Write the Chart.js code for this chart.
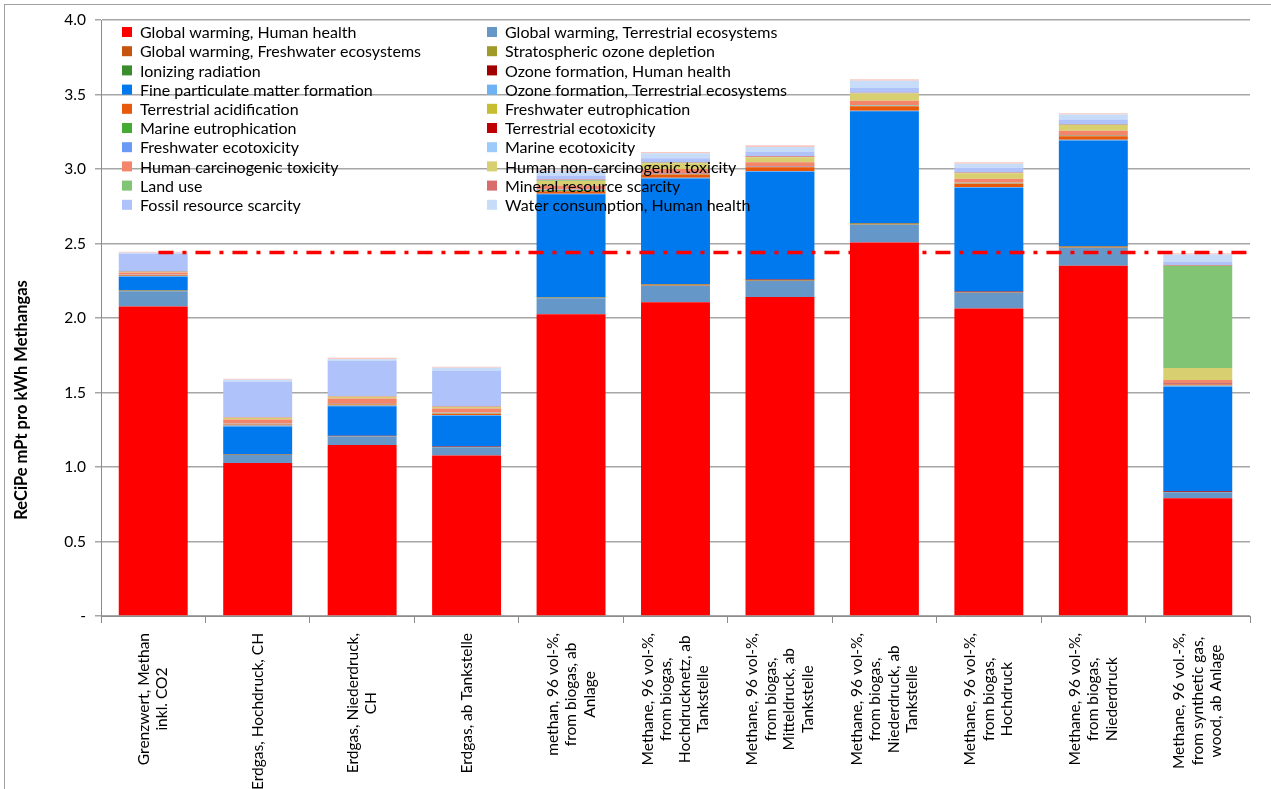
<!DOCTYPE html>
<html>
<head>
<meta charset="utf-8">
<script src="https://cdn.jsdelivr.net/npm/chart.js@4.4.1/dist/chart.umd.min.js"></script>
<style>
  body { margin: 0; background: #fff; }
  canvas { display: block; }
</style>
</head>
<body>
<canvas id="chart" width="1271" height="789"></canvas>
<script>
// categories (multi-line labels as in the original)
const categories = [
  ['Grenzwert, Methan', 'inkl. CO2'],
  ['Erdgas, Hochdruck, CH'],
  ['Erdgas, Niederdruck,', 'CH'],
  ['Erdgas, ab Tankstelle'],
  ['methan, 96 vol-%,', 'from biogas, ab', 'Anlage'],
  ['Methane, 96 vol-%,', 'from biogas,', 'Hochdrucknetz, ab', 'Tankstelle'],
  ['Methane, 96 vol-%,', 'from biogas,', 'Mitteldruck, ab', 'Tankstelle'],
  ['Methane, 96 vol-%,', 'from biogas,', 'Niederdruck, ab', 'Tankstelle'],
  ['Methane, 96 vol-%,', 'from biogas,', 'Hochdruck'],
  ['Methane, 96 vol-%,', 'from biogas,', 'Niederdruck'],
  ['Methane, 96 vol.-%,', 'from synthetic gas,', 'wood, ab Anlage']
];

const yTicks = [0, 0.5, 1.0, 1.5, 2.0, 2.5, 3.0, 3.5, 4.0];
const yTitle = 'ReCiPe mPt pro kWh Methangas';

// stacked series, bottom to top
const gwHumanHealth     = [2.078, 1.027, 1.148, 1.078, 2.025, 2.105, 2.141, 2.506, 2.063, 2.351, 0.790];
const gwTerrestrial     = [0.102, 0.054, 0.056, 0.054, 0.107, 0.112, 0.107, 0.120, 0.107, 0.121, 0.040];
const gwFreshwater      = [0.002, 0.001, 0.001, 0.001, 0.002, 0.002, 0.002, 0.002, 0.002, 0.002, 0.001];
const ozoneDepletion    = [0.001, 0.001, 0.001, 0.001, 0.002, 0.005, 0.002, 0.005, 0.002, 0.005, 0.001];
const ionizing          = [0.001, 0.001, 0.001, 0.001, 0.001, 0.001, 0.001, 0.001, 0.001, 0.001, 0.001];
const ozoneHuman        = [0.003, 0.002, 0.002, 0.002, 0.003, 0.003, 0.006, 0.003, 0.003, 0.003, 0.005];
const finePM            = [0.090, 0.186, 0.198, 0.207, 0.690, 0.709, 0.723, 0.750, 0.697, 0.709, 0.701];
const ozoneTerrestrial  = [0.005, 0.006, 0.005, 0.005, 0.004, 0.004, 0.004, 0.004, 0.004, 0.004, 0.008];
const terrAcidification = [0.003, 0.005, 0.008, 0.008, 0.016, 0.022, 0.025, 0.030, 0.022, 0.024, 0.006];
const fwEutrophication  = [0.001, 0.002, 0.002, 0.002, 0.002, 0.002, 0.002, 0.002, 0.002, 0.002, 0.002];
const marineEutroph     = [0.001, 0.001, 0.001, 0.001, 0.006, 0.002, 0.001, 0.001, 0.001, 0.001, 0.001];
const terrEcotox        = [0.001, 0.001, 0.001, 0.001, 0.001, 0.001, 0.001, 0.001, 0.001, 0.001, 0.004];
const fwEcotox          = [0.001, 0.001, 0.001, 0.001, 0.001, 0.001, 0.001, 0.001, 0.001, 0.001, 0.001];
const marineEcotox      = [0.002, 0.002, 0.002, 0.002, 0.002, 0.002, 0.002, 0.002, 0.002, 0.002, 0.002];
const humanCarc         = [0.015, 0.028, 0.032, 0.028, 0.028, 0.029, 0.027, 0.030, 0.027, 0.030, 0.021];
const humanNonCarc      = [0.003, 0.012, 0.012, 0.010, 0.030, 0.038, 0.034, 0.048, 0.036, 0.038, 0.080];
const landUse           = [0.001, 0.001, 0.001, 0.001, 0.005, 0.004, 0.002, 0.002, 0.002, 0.002, 0.687];
const mineral           = [0.004, 0.003, 0.003, 0.003, 0.004, 0.004, 0.004, 0.004, 0.004, 0.004, 0.004];
const fossil            = [0.115, 0.238, 0.236, 0.238, 0.028, 0.026, 0.029, 0.032, 0.032, 0.032, 0.021];
const waterHuman        = [0.009, 0.013, 0.012, 0.022, 0.030, 0.033, 0.034, 0.049, 0.027, 0.032, 0.051];
const waterTerrestrial  = [0.007, 0.007, 0.011, 0.007, 0.005, 0.009, 0.011, 0.009, 0.009, 0.009, 0.007];

// limit line (Grenzwert)
const limitValue = 2.44;
const limitFrom = 0.55;
const limitTo = 11;

const series = [
  ['Global warming, Human health', gwHumanHealth, '#ff0000'],
  ['Global warming, Terrestrial ecosystems', gwTerrestrial, '#6598c9'],
  ['Global warming, Freshwater ecosystems', gwFreshwater, '#c4540f'],
  ['Stratospheric ozone depletion', ozoneDepletion, '#a09a28'],
  ['Ionizing radiation', ionizing, '#3b8c2c'],
  ['Ozone formation, Human health', ozoneHuman, '#a00000'],
  ['Fine particulate matter formation', finePM, '#0078ee'],
  ['Ozone formation, Terrestrial ecosystems', ozoneTerrestrial, '#6db2f2'],
  ['Terrestrial acidification', terrAcidification, '#e8590c'],
  ['Freshwater eutrophication', fwEutrophication, '#c8bc30'],
  ['Marine eutrophication', marineEutroph, '#44aa33'],
  ['Terrestrial ecotoxicity', terrEcotox, '#c00000'],
  ['Freshwater ecotoxicity', fwEcotox, '#6a9af5'],
  ['Marine ecotoxicity', marineEcotox, '#9ccbfa'],
  ['Human carcinogenic toxicity', humanCarc, '#f3866a'],
  ['Human non-carcinogenic toxicity', humanNonCarc, '#d8d070'],
  ['Land use', landUse, '#80c474'],
  ['Mineral resource scarcity', mineral, '#d86c6c'],
  ['Fossil resource scarcity', fossil, '#afc3fa'],
  ['Water consumption, Human health', waterHuman, '#c6dcf8'],
  ['Water consumption, Terrestrial ecosystems', waterTerrestrial, '#f8c8c0']
];
const legendCount = 20;

const FONT = 'Lato, "Open Sans", sans-serif';

const datasets = series.map(s => ({
  type: 'bar',
  label: s[0],
  data: s[1],
  backgroundColor: s[2],
  borderWidth: 0,
  grouped: false,
  categoryPercentage: 1,
  barPercentage: 0.66,
  xAxisID: 'x',
  yAxisID: 'y'
}));

datasets.push({
  type: 'line',
  label: 'Grenzwert',
  data: [{x: limitFrom, y: limitValue}, {x: limitTo, y: limitValue}],
  borderColor: '#ff0000',
  borderWidth: 3.5,
  borderDash: [15, 9, 4, 9],
  pointRadius: 0,
  fill: false,
  xAxisID: 'x2',
  yAxisID: 'y2',
  order: -1
});

const extras = {
  id: 'extras',
  beforeDraw(chart) {
    const ctx = chart.ctx;
    ctx.save();
    ctx.strokeStyle = '#a0a0a0';
    ctx.lineWidth = 1;
    ctx.strokeRect(4.5, 4.5, 1400, 1000);
    ctx.restore();
  },
  afterDatasetsDraw(chart) {
    const ctx = chart.ctx;
    // legend inside the plot area, two columns
    ctx.save();
    ctx.font = '16px ' + FONT;
    ctx.textBaseline = 'middle';
    ctx.textAlign = 'left';
    for (let i = 0; i < legendCount; i++) {
      const ds = chart.data.datasets[i];
      const col = i % 2, row = Math.floor(i / 2);
      const sx = col === 0 ? 122 : 487;
      const sy = 32 + row * 19.2;
      ctx.fillStyle = ds.backgroundColor;
      ctx.fillRect(sx, sy - 5, 10, 10);
      ctx.fillStyle = '#000';
      ctx.fillText(ds.label, sx + 18, sy + 1);
    }
    ctx.restore();
  },
  afterDraw(chart) {
    const ctx = chart.ctx;
    const xs = chart.scales.x;
    // category labels, rotated, lines centred
    ctx.save();
    ctx.font = '15.5px ' + FONT;
    ctx.fillStyle = '#000';
    ctx.textAlign = 'center';
    ctx.textBaseline = 'middle';
    const lh = 18.5;
    categories.forEach((lines, i) => {
      const x = xs.getPixelForValue(i);
      const w = Math.max(...lines.map(l => ctx.measureText(l).width));
      ctx.save();
      ctx.translate(x, xs.top + 17 + w / 2);
      ctx.rotate(-Math.PI / 2);
      lines.forEach((l, j) => {
        ctx.fillText(l, 0, (j - (lines.length - 1) / 2) * lh);
      });
      ctx.restore();
    });
    // y axis title
    ctx.font = 'bold 16.5px ' + FONT;
    ctx.translate(22, 400);
    ctx.rotate(-Math.PI / 2);
    ctx.fillText(yTitle, 0, 0);
    ctx.restore();
  }
};

new Chart(document.getElementById('chart'), {
  type: 'bar',
  data: { labels: categories.map(c => c.join(' ')), datasets: datasets },
  options: {
    responsive: false,
    animation: false,
    layout: { padding: { top: 20, right: 21, left: 0, bottom: 0 } },
    plugins: { legend: { display: false }, tooltip: { enabled: false } },
    scales: {
      x: {
        type: 'category',
        stacked: true,
        offset: true,
        ticks: { display: false },
        grid: { offset: true, drawOnChartArea: false, drawTicks: true, tickLength: 7, color: '#8c8c8c' },
        border: { color: '#8c8c8c', width: 1 },
        afterFit: s => { s.height = 173; }
      },
      x2: { type: 'linear', display: false, offset: false, min: 0, max: 11, grid: { offset: false } },
      y2: { type: 'linear', display: false, min: 0, max: 4 },
      y: {
        stacked: true,
        min: 0,
        max: 4,
        afterBuildTicks: s => { s.ticks = yTicks.map(v => ({ value: v })); },
        ticks: {
          callback: v => (v === 0 ? '-' : v.toFixed(1)),
          color: '#000',
          font: { family: FONT, size: 15.5 },
          padding: 9
        },
        grid: { color: '#a6a6a6', lineWidth: 1.5, tickLength: 6 },
        border: { color: '#8c8c8c', width: 1 },
        afterFit: s => { s.width = 101; }
      }
    }
  },
  plugins: [extras]
});
</script>
</body>
</html>
